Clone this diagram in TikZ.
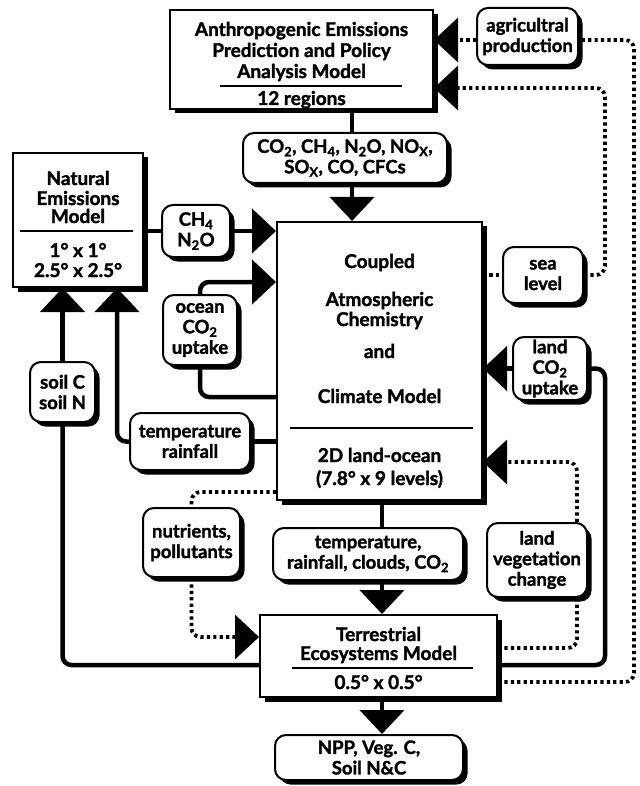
\documentclass[tikz,border=0pt]{standalone}
\usepackage{fontspec}
\setmainfont{Lato}[BoldFeatures={FakeBold=1.6}]
\usetikzlibrary{arrows.meta,shadows,calc}
\newcommand\dsub[1]{\textsubscript{#1}}
\begin{document}
\begin{tikzpicture}[x=1pt,y=-1pt,
  font=\fontsize{18.5}{20.5}\selectfont\bfseries,
  shad/.style={drop shadow={shadow xshift=4.5pt, shadow yshift=-4.5pt, fill=black, opacity=1}},
  model/.style={draw, line width=2pt, fill=white, inner sep=0pt, shad},
  lbl/.style={draw, line width=2pt, fill=white, rounded corners=11pt, inner sep=0pt, align=center, shad},
  conn/.style={line width=4.5pt, rounded corners=9pt},
  dots/.style={line width=3.8pt, dash pattern=on 3.2pt off 3.2pt, rounded corners=9pt},
  tip/.style={-{Triangle[length=24pt,width=44pt]}},
  ttl/.style={anchor=base, inner sep=0pt, font=\fontsize{19}{20}\selectfont\bfseries},
  rul/.style={line width=1.6pt},
]
\useasboundingbox (0,0) rectangle (639,786);

% ---- model boxes
\node[model, minimum width=263pt, minimum height=99pt] (anthro) at (301.5,59.5) {};
\node[ttl] (anthroA) at (301.5,36) {Anthropogenic Emissions};
\node[ttl] (anthroB) at (301.5,57) {Prediction and Policy};
\node[ttl] (anthroC) at (301.5,78) {Analysis Model};
\draw[rul] (220,86) -- (402,86);
\node[ttl] (anthroD) at (301.5,105) {12 regions};

\node[model, minimum width=130pt, minimum height=134pt] (natural) at (78,220) {};
\node[ttl] (natA) at (78,185) {Natural};
\node[ttl] (natB) at (78,205) {Emissions};
\node[ttl] (natC) at (78,223) {Model};
\draw[rul] (20,231) -- (133,231);
\node[ttl] (natD) at (78,257) {1° x 1°};
\node[ttl] (natE) at (78,277) {2.5° x 2.5°};

\node[model, minimum width=205pt, minimum height=278pt] (ccm) at (379.5,361) {};
\node[ttl] (ccmA) at (379.5,268) {Coupled};
\node[ttl] (ccmB) at (379.5,306) {Atmospheric};
\node[ttl] (ccmC) at (379.5,326) {Chemistry};
\node[ttl] (ccmD) at (379.5,358) {and};
\node[ttl] (ccmE) at (379.5,403) {Climate Model};
\draw[rul] (290,428) -- (473,428);
\node[ttl] (ccmF) at (379.5,462) {2D land-ocean};
\node[ttl] (ccmG) at (379.5,485) {(7.8° x 9 levels)};

\node[model, minimum width=237pt, minimum height=82pt] (terr) at (378.5,656) {};
\node[ttl] (terrA) at (378.5,641) {Terrestrial};
\node[ttl] (terrB) at (378.5,660) {Ecosystems Model};
\draw[rul] (292,668) -- (473,668);
\node[ttl] (terrC) at (378.5,689) {0.5° x 0.5°};

% ---- label boxes
\node[lbl, minimum width=101pt, minimum height=57pt] (agri) at (527.5,36.5) {agricultral\\production};
\node[lbl, minimum width=204pt, minimum height=50pt] (co2) at (345,158) {CO\dsub{2}, CH\dsub{4}, N\dsub{2}O, NO\dsub{X},\\SO\dsub{X}, CO, CFCs};
\node[lbl, minimum width=68pt, minimum height=52pt] (ch4) at (196,231) {CH\dsub{4}\\N\dsub{2}O};
\node[lbl, minimum width=74pt, minimum height=70pt] (ocean) at (200,330) {ocean\\CO\dsub{2}\\uptake};
\node[lbl, minimum width=120pt, minimum height=57pt] (temp) at (190,441.5) {temperature\\rainfall};
\node[lbl, minimum width=65pt, minimum height=60pt] (soil) at (62.5,392) {soil C\\soil N};
\node[lbl, minimum width=80pt, minimum height=56pt] (sea) at (543,275) {sea\\level};
\node[lbl, minimum width=74pt, minimum height=63pt] (landco2) at (550,368.5) {land\\CO\dsub{2}\\uptake};
\node[lbl, minimum width=97pt, minimum height=69pt] (nutr) at (191.5,542.5) {nutrients,\\pollutants};
\node[lbl, minimum width=190pt, minimum height=52pt] (tclim) at (368,554) {temperature,\\rainfall, clouds, CO\dsub{2}};
\node[lbl, minimum width=100pt, minimum height=74pt] (landveg) at (537,560) {land\\vegetation\\change};
\node[lbl, minimum width=188pt, minimum height=45pt] (npp) at (369,757.5) {NPP, Veg. C,\\Soil N\&C};

% ---- connectors
\draw[conn] (anthro.south -| 352,0) -- (co2.north -| 352,0);
\draw[conn,tip] (co2.south -| 352,0) -- (ccm.north -| 352,0);
\draw[conn] (natural.east |- ch4) -- (ch4.west);
\draw[conn,tip] (ch4.east) -- (ch4.east -| ccm.west);
\draw[conn,tip] (ocean.north) |- (ccm.west |- 0,282);
\draw[conn] (ccm.west |- 0,397) -| (ocean.south);
\draw[conn] (ccm.west |- temp) -- (temp.east);
\draw[conn,tip] (temp.west) -| (117,0 |- natural.south);
\draw[conn,tip] (soil.north) -- (soil.north |- natural.south);
\draw[conn] (soil.south) |- (terr.west |- 0,665);
\draw[dots] (ccm.west |- 0,492) -| (nutr.north);
\draw[dots,tip] (nutr.south) |- (terr.west |- 0,637);
\draw[conn] (ccm.south -| 382,0) -- (tclim.north -| 382,0);
\draw[conn,tip] (tclim.south -| 382,0) -- (terr.north -| 382,0);
\draw[conn,tip] (terr.south -| 382,0) -- (npp.north -| 382,0);
\draw[dots] (ccm.east |- sea) -- (sea.west);
\draw[dots,tip] (sea.east) -| (605,88) -- (anthro.east |- 0,88);
\draw[conn,tip] (landco2.west) -- (landco2.west -| ccm.east);
\draw[conn] (landco2.east) -| (605,665) -- (terr.east |- 0,665);
\draw[dots] (terr.east |- 0,648) -| (landveg.south -| 577,0);
\draw[dots,tip] (landveg.north -| 577,0) |- (ccm.east |- 0,462);
\draw[dots] (terr.east |- 0,682) -| (634,40) -- (agri.east |- 0,40);
\draw[dots,tip] (agri.west |- 0,40) -- (anthro.east |- 0,40);
\end{tikzpicture}
\end{document}
